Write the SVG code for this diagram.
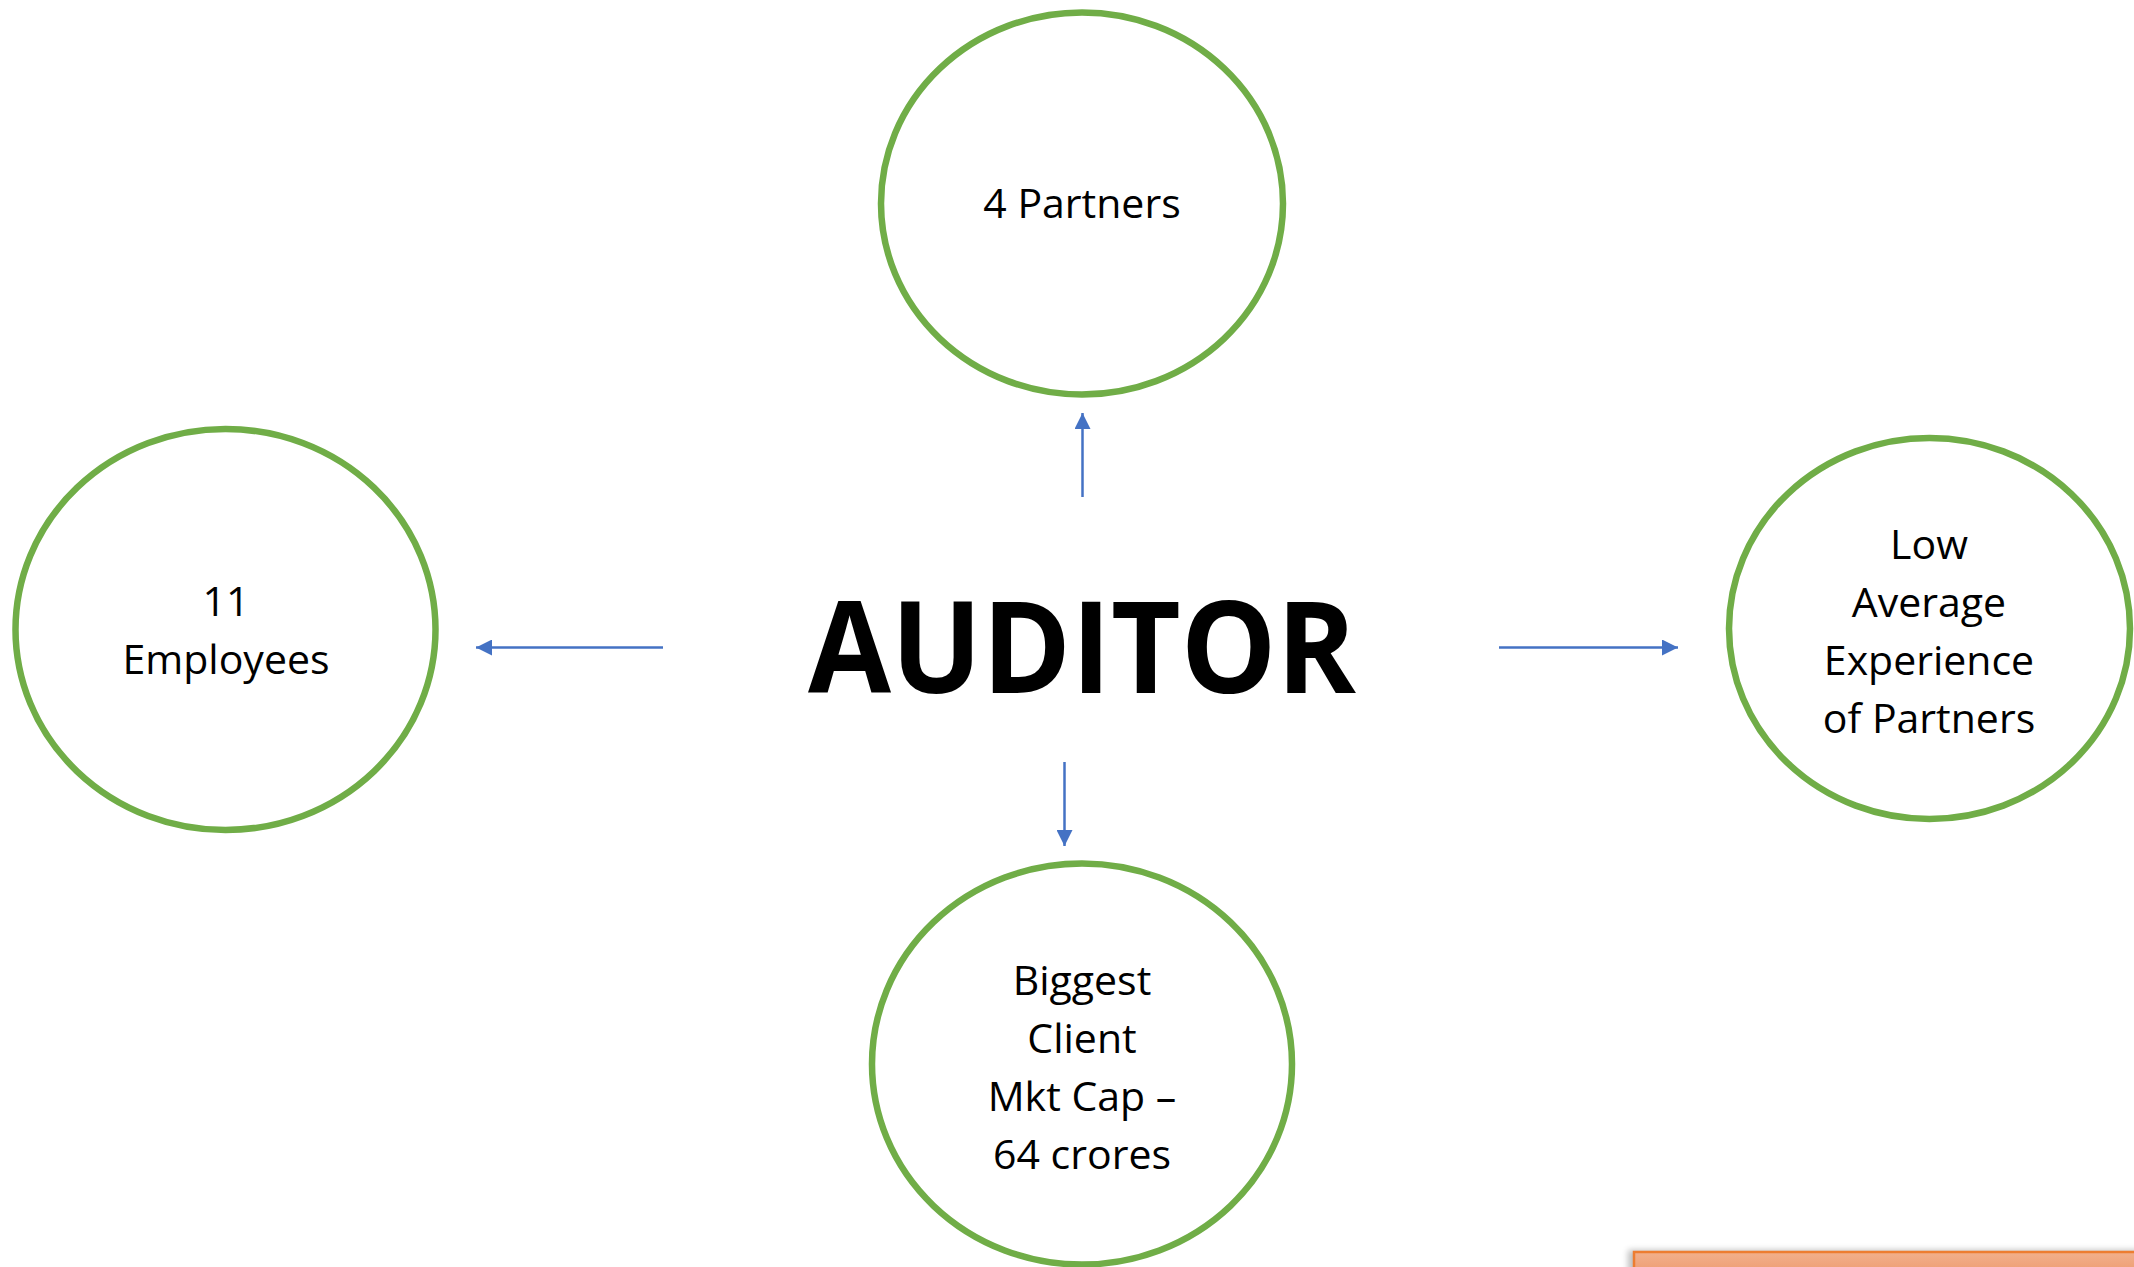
<svg xmlns="http://www.w3.org/2000/svg" width="2134" height="1267" viewBox="0 0 2134 1267">
<defs>
<style>
.node ellipse{fill:#fff;stroke:#70AD47;stroke-width:6.5}
.lbl{font-family:"Open Sans","Noto Sans","Liberation Sans",sans-serif;font-size:41px;fill:#000;text-anchor:middle}
.title{font-family:"Open Sans","Noto Sans","Liberation Sans",sans-serif;font-size:128px;font-weight:700;fill:#000}
.conn line{stroke:#4472C4;stroke-width:2.5;fill:none}
</style>
<marker id="ah" viewBox="0 0 10 10" refX="10" refY="5" markerWidth="6.4" markerHeight="6.4" markerUnits="strokeWidth" orient="auto">
<path d="M0,0 L10,5 L0,10 Z" fill="#4472C4"/>
</marker>
<linearGradient id="og" x1="0" y1="0" x2="0" y2="1">
<stop offset="0" stop-color="#F2B08C"/>
<stop offset="1" stop-color="#EC9466"/>
</linearGradient>
<filter id="sh" x="-5%" y="-50%" width="110%" height="200%">
<feGaussianBlur stdDeviation="3"/>
</filter>
</defs>
<rect width="2134" height="1267" fill="#fff"/>
<g id="decor">
<rect x="1628" y="1250" width="520" height="40" fill="#000" opacity="0.25" filter="url(#sh)"/>
<rect x="1634" y="1252" width="510" height="30" fill="url(#og)" stroke="#ED7D31" stroke-width="2.5"/>
</g>
<g id="auditor">
<text class="title" x="808" y="693" textLength="548" lengthAdjust="spacingAndGlyphs">AUDITOR</text>
</g>
<g id="partners" class="node">
<ellipse cx="1082" cy="203.5" rx="201" ry="191"/>
<text class="lbl" x="1082" y="218">4 Partners</text>
</g>
<g id="employees" class="node">
<ellipse cx="225.5" cy="629.5" rx="210" ry="200.5"/>
<text class="lbl" x="226" y="616">11</text>
<text class="lbl" x="226" y="674">Employees</text>
</g>
<g id="experience" class="node">
<ellipse cx="1929.5" cy="628.5" rx="200.5" ry="190.5"/>
<text class="lbl" x="1929" y="559">Low</text>
<text class="lbl" x="1929" y="617">Average</text>
<text class="lbl" x="1929" y="675">Experience</text>
<text class="lbl" x="1929" y="733">of Partners</text>
</g>
<g id="client" class="node">
<ellipse cx="1082" cy="1064" rx="210" ry="200.5"/>
<text class="lbl" x="1082" y="995">Biggest</text>
<text class="lbl" x="1082" y="1053">Client</text>
<text class="lbl" x="1082" y="1111">Mkt Cap –</text>
<text class="lbl" x="1082" y="1169">64 crores</text>
</g>
<g id="connectors" class="conn">
<line x1="1082.5" y1="497" x2="1082.5" y2="413" marker-end="url(#ah)"/>
<line x1="663" y1="647.5" x2="476" y2="647.5" marker-end="url(#ah)"/>
<line x1="1499" y1="647.5" x2="1678" y2="647.5" marker-end="url(#ah)"/>
<line x1="1064.5" y1="762" x2="1064.5" y2="846" marker-end="url(#ah)"/>
</g>
</svg>
